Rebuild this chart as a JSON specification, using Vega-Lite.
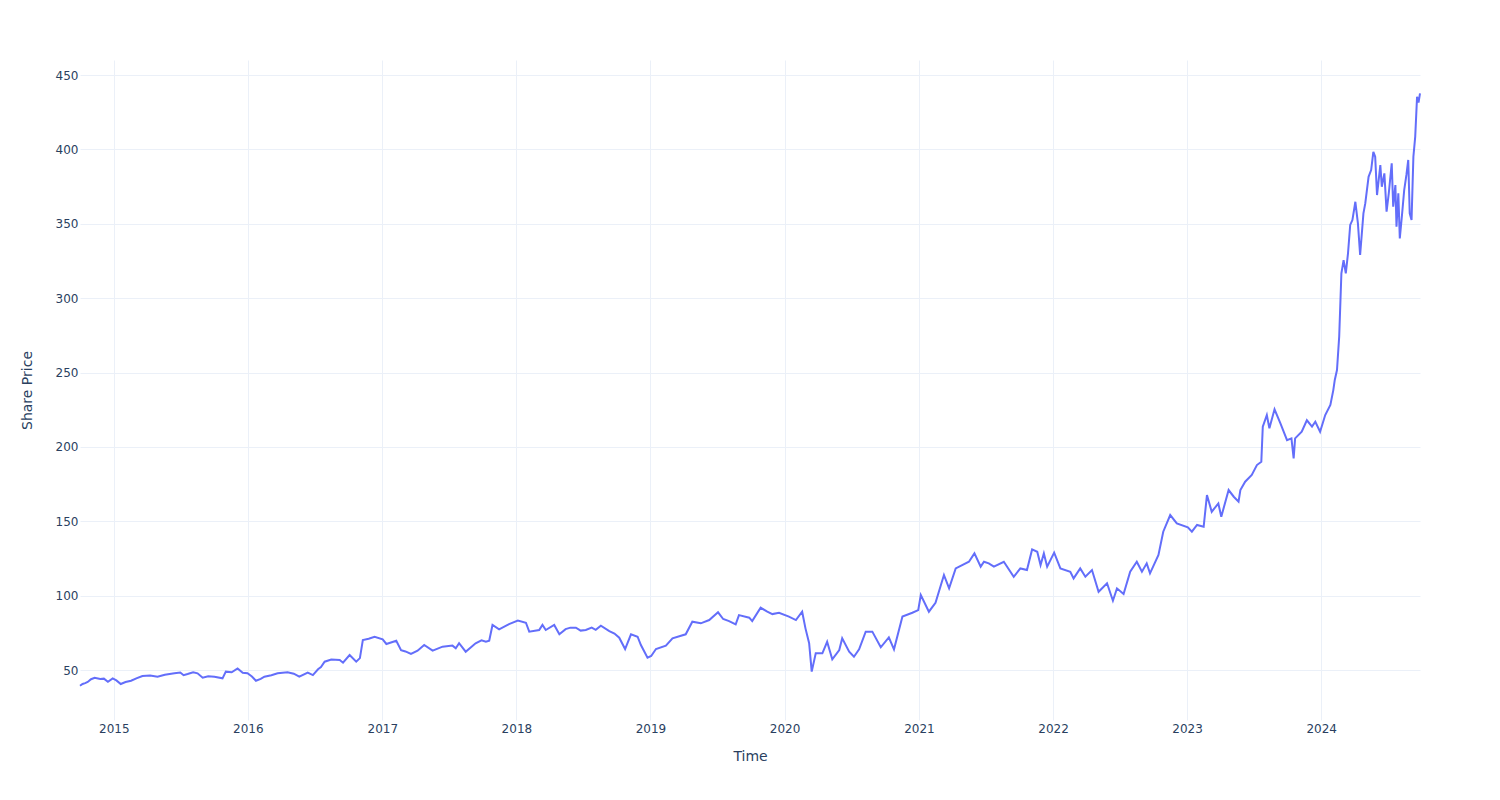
{
  "$schema": "https://vega.github.io/schema/vega-lite/v6.json",
  "width": 1340,
  "height": 660,
  "autosize": {"type": "none"},
  "padding": {"left": 80, "top": 60, "right": 80, "bottom": 80},
  "background": "white",
  "config": {"view": {"stroke": null}},
  "data": {"values": [
    {"date": "2014-10-01", "price": 39.4},
    {"date": "2014-10-08", "price": 40.6},
    {"date": "2014-10-15", "price": 41.2},
    {"date": "2014-10-22", "price": 42.0},
    {"date": "2014-10-31", "price": 43.8},
    {"date": "2014-11-10", "price": 44.8},
    {"date": "2014-11-25", "price": 43.9},
    {"date": "2014-12-05", "price": 44.2},
    {"date": "2014-12-16", "price": 42.1},
    {"date": "2014-12-29", "price": 44.4},
    {"date": "2015-01-08", "price": 43.0},
    {"date": "2015-01-20", "price": 40.6},
    {"date": "2015-02-02", "price": 41.9},
    {"date": "2015-02-17", "price": 42.8},
    {"date": "2015-03-05", "price": 44.5},
    {"date": "2015-03-20", "price": 46.0},
    {"date": "2015-04-10", "price": 46.3},
    {"date": "2015-04-30", "price": 45.5},
    {"date": "2015-05-20", "price": 46.8},
    {"date": "2015-06-15", "price": 47.8},
    {"date": "2015-07-01", "price": 48.3},
    {"date": "2015-07-10", "price": 46.5},
    {"date": "2015-07-21", "price": 47.3},
    {"date": "2015-08-05", "price": 48.5},
    {"date": "2015-08-17", "price": 47.8},
    {"date": "2015-08-31", "price": 44.8},
    {"date": "2015-09-15", "price": 45.8},
    {"date": "2015-10-02", "price": 45.5},
    {"date": "2015-10-24", "price": 44.4},
    {"date": "2015-11-02", "price": 48.9},
    {"date": "2015-11-18", "price": 48.5},
    {"date": "2015-12-04", "price": 51.1},
    {"date": "2015-12-18", "price": 48.2},
    {"date": "2015-12-31", "price": 47.8},
    {"date": "2016-01-12", "price": 45.6},
    {"date": "2016-01-23", "price": 42.8},
    {"date": "2016-02-05", "price": 44.0},
    {"date": "2016-02-15", "price": 45.5},
    {"date": "2016-03-05", "price": 46.5},
    {"date": "2016-03-22", "price": 47.8},
    {"date": "2016-04-18", "price": 48.5},
    {"date": "2016-05-05", "price": 47.5},
    {"date": "2016-05-20", "price": 45.5},
    {"date": "2016-06-12", "price": 48.2},
    {"date": "2016-06-26", "price": 46.6},
    {"date": "2016-07-10", "price": 50.5},
    {"date": "2016-07-18", "price": 52.0},
    {"date": "2016-07-28", "price": 55.6},
    {"date": "2016-08-15", "price": 57.0},
    {"date": "2016-09-07", "price": 56.7},
    {"date": "2016-09-16", "price": 54.9},
    {"date": "2016-10-04", "price": 60.1},
    {"date": "2016-10-22", "price": 55.6},
    {"date": "2016-11-01", "price": 58.0},
    {"date": "2016-11-09", "price": 70.2},
    {"date": "2016-11-25", "price": 71.0},
    {"date": "2016-12-11", "price": 72.4},
    {"date": "2017-01-02", "price": 70.6},
    {"date": "2017-01-12", "price": 67.5},
    {"date": "2017-02-08", "price": 69.7},
    {"date": "2017-02-21", "price": 63.4},
    {"date": "2017-03-05", "price": 62.5},
    {"date": "2017-03-20", "price": 60.8},
    {"date": "2017-04-07", "price": 63.0},
    {"date": "2017-04-25", "price": 66.8},
    {"date": "2017-05-18", "price": 63.0},
    {"date": "2017-06-14", "price": 65.7},
    {"date": "2017-07-11", "price": 66.4},
    {"date": "2017-07-20", "price": 64.6},
    {"date": "2017-07-29", "price": 68.0},
    {"date": "2017-08-16", "price": 62.3},
    {"date": "2017-09-12", "price": 68.0},
    {"date": "2017-09-28", "price": 70.0},
    {"date": "2017-10-10", "price": 69.0},
    {"date": "2017-10-19", "price": 69.7},
    {"date": "2017-10-28", "price": 80.3},
    {"date": "2017-11-15", "price": 77.4},
    {"date": "2017-12-12", "price": 80.9},
    {"date": "2018-01-05", "price": 83.2},
    {"date": "2018-01-27", "price": 81.8},
    {"date": "2018-02-05", "price": 75.8},
    {"date": "2018-03-04", "price": 76.9},
    {"date": "2018-03-13", "price": 80.3},
    {"date": "2018-03-22", "price": 76.9},
    {"date": "2018-04-14", "price": 80.3},
    {"date": "2018-04-28", "price": 74.0},
    {"date": "2018-05-15", "price": 77.5},
    {"date": "2018-05-28", "price": 78.5},
    {"date": "2018-06-12", "price": 78.5},
    {"date": "2018-06-25", "price": 76.5},
    {"date": "2018-07-09", "price": 76.9},
    {"date": "2018-07-25", "price": 78.5},
    {"date": "2018-08-05", "price": 77.0},
    {"date": "2018-08-19", "price": 79.8},
    {"date": "2018-09-11", "price": 76.2},
    {"date": "2018-09-25", "price": 74.5},
    {"date": "2018-10-08", "price": 71.7},
    {"date": "2018-10-24", "price": 64.1},
    {"date": "2018-11-09", "price": 74.0},
    {"date": "2018-11-27", "price": 72.4},
    {"date": "2018-12-06", "price": 66.8},
    {"date": "2018-12-24", "price": 58.3},
    {"date": "2019-01-03", "price": 59.4},
    {"date": "2019-01-16", "price": 64.1},
    {"date": "2019-02-12", "price": 66.4},
    {"date": "2019-03-02", "price": 71.3},
    {"date": "2019-04-07", "price": 74.0},
    {"date": "2019-04-25", "price": 82.5},
    {"date": "2019-05-18", "price": 81.4},
    {"date": "2019-06-10", "price": 83.6},
    {"date": "2019-07-04", "price": 88.8},
    {"date": "2019-07-18", "price": 84.3},
    {"date": "2019-08-03", "price": 82.9},
    {"date": "2019-08-21", "price": 80.7},
    {"date": "2019-08-30", "price": 86.9},
    {"date": "2019-09-27", "price": 85.2},
    {"date": "2019-10-05", "price": 82.9},
    {"date": "2019-10-28", "price": 91.9},
    {"date": "2019-11-15", "price": 89.2},
    {"date": "2019-11-29", "price": 87.6},
    {"date": "2019-12-17", "price": 88.5},
    {"date": "2020-01-13", "price": 85.9},
    {"date": "2020-02-01", "price": 83.6},
    {"date": "2020-02-18", "price": 89.2},
    {"date": "2020-02-27", "price": 78.0},
    {"date": "2020-03-08", "price": 68.0},
    {"date": "2020-03-15", "price": 48.9},
    {"date": "2020-03-26", "price": 61.2},
    {"date": "2020-04-13", "price": 61.2},
    {"date": "2020-04-26", "price": 69.0},
    {"date": "2020-05-10", "price": 57.2},
    {"date": "2020-05-29", "price": 63.4},
    {"date": "2020-06-06", "price": 71.3},
    {"date": "2020-06-25", "price": 62.3},
    {"date": "2020-07-08", "price": 58.9},
    {"date": "2020-07-22", "price": 63.9},
    {"date": "2020-08-09", "price": 75.8},
    {"date": "2020-08-27", "price": 75.8},
    {"date": "2020-09-19", "price": 65.3},
    {"date": "2020-10-11", "price": 72.0},
    {"date": "2020-10-25", "price": 63.9},
    {"date": "2020-11-17", "price": 85.9},
    {"date": "2020-12-14", "price": 88.5},
    {"date": "2020-12-30", "price": 90.3},
    {"date": "2021-01-06", "price": 100.4},
    {"date": "2021-01-28", "price": 89.2},
    {"date": "2021-02-15", "price": 95.2},
    {"date": "2021-03-10", "price": 113.9},
    {"date": "2021-03-24", "price": 104.9},
    {"date": "2021-04-11", "price": 118.3},
    {"date": "2021-05-17", "price": 122.8},
    {"date": "2021-06-01", "price": 128.4},
    {"date": "2021-06-18", "price": 119.5},
    {"date": "2021-06-27", "price": 122.8},
    {"date": "2021-07-10", "price": 121.7},
    {"date": "2021-07-24", "price": 119.5},
    {"date": "2021-08-20", "price": 122.8},
    {"date": "2021-09-16", "price": 112.7},
    {"date": "2021-10-04", "price": 118.3},
    {"date": "2021-10-22", "price": 117.2},
    {"date": "2021-11-05", "price": 131.1},
    {"date": "2021-11-19", "price": 129.5},
    {"date": "2021-11-28", "price": 120.6},
    {"date": "2021-12-07", "price": 128.4},
    {"date": "2021-12-16", "price": 119.5},
    {"date": "2022-01-04", "price": 128.9},
    {"date": "2022-01-21", "price": 118.3},
    {"date": "2022-02-17", "price": 116.1},
    {"date": "2022-02-26", "price": 111.6},
    {"date": "2022-03-16", "price": 118.3},
    {"date": "2022-03-30", "price": 112.7},
    {"date": "2022-04-17", "price": 117.2},
    {"date": "2022-05-05", "price": 102.6},
    {"date": "2022-05-28", "price": 108.3},
    {"date": "2022-06-13", "price": 96.6},
    {"date": "2022-06-24", "price": 104.9},
    {"date": "2022-07-12", "price": 101.1},
    {"date": "2022-07-30", "price": 116.1},
    {"date": "2022-08-17", "price": 122.8},
    {"date": "2022-08-31", "price": 116.1},
    {"date": "2022-09-13", "price": 121.7},
    {"date": "2022-09-22", "price": 115.0},
    {"date": "2022-10-15", "price": 127.3},
    {"date": "2022-10-28", "price": 143.0},
    {"date": "2022-11-16", "price": 154.2},
    {"date": "2022-12-04", "price": 148.6},
    {"date": "2023-01-03", "price": 145.9},
    {"date": "2023-01-14", "price": 143.0},
    {"date": "2023-01-28", "price": 147.5},
    {"date": "2023-02-15", "price": 146.3},
    {"date": "2023-02-24", "price": 167.6},
    {"date": "2023-03-09", "price": 156.4},
    {"date": "2023-03-27", "price": 162.0},
    {"date": "2023-04-04", "price": 153.1},
    {"date": "2023-04-24", "price": 171.0},
    {"date": "2023-05-08", "price": 166.5},
    {"date": "2023-05-21", "price": 163.2},
    {"date": "2023-05-26", "price": 171.0},
    {"date": "2023-06-08", "price": 176.6},
    {"date": "2023-06-26", "price": 181.1},
    {"date": "2023-07-10", "price": 187.8},
    {"date": "2023-07-22", "price": 190.0},
    {"date": "2023-07-26", "price": 213.6},
    {"date": "2023-08-06", "price": 221.4},
    {"date": "2023-08-13", "price": 212.5},
    {"date": "2023-08-27", "price": 225.3},
    {"date": "2023-09-12", "price": 215.8},
    {"date": "2023-09-30", "price": 204.5},
    {"date": "2023-10-12", "price": 205.7},
    {"date": "2023-10-18", "price": 192.3},
    {"date": "2023-10-22", "price": 205.7},
    {"date": "2023-11-09", "price": 210.2},
    {"date": "2023-11-23", "price": 217.9},
    {"date": "2023-12-07", "price": 213.6},
    {"date": "2023-12-16", "price": 216.9},
    {"date": "2023-12-29", "price": 210.2},
    {"date": "2024-01-12", "price": 221.4},
    {"date": "2024-01-26", "price": 228.2},
    {"date": "2024-02-03", "price": 238.2},
    {"date": "2024-02-07", "price": 245.0},
    {"date": "2024-02-13", "price": 251.7},
    {"date": "2024-02-19", "price": 274.1},
    {"date": "2024-02-25", "price": 316.7},
    {"date": "2024-03-02", "price": 325.6},
    {"date": "2024-03-08", "price": 316.7},
    {"date": "2024-03-14", "price": 330.1},
    {"date": "2024-03-20", "price": 349.2},
    {"date": "2024-03-26", "price": 352.5},
    {"date": "2024-04-03", "price": 364.8},
    {"date": "2024-04-10", "price": 350.3},
    {"date": "2024-04-16", "price": 329.0},
    {"date": "2024-04-25", "price": 357.0},
    {"date": "2024-04-30", "price": 363.7},
    {"date": "2024-05-09", "price": 381.6},
    {"date": "2024-05-16", "price": 386.1},
    {"date": "2024-05-22", "price": 398.4},
    {"date": "2024-05-27", "price": 395.1},
    {"date": "2024-06-01", "price": 369.3},
    {"date": "2024-06-10", "price": 389.5},
    {"date": "2024-06-14", "price": 374.9},
    {"date": "2024-06-21", "price": 383.9},
    {"date": "2024-06-27", "price": 358.2},
    {"date": "2024-07-03", "price": 370.5},
    {"date": "2024-07-11", "price": 390.6},
    {"date": "2024-07-15", "price": 361.5},
    {"date": "2024-07-21", "price": 376.0},
    {"date": "2024-07-24", "price": 348.0},
    {"date": "2024-07-29", "price": 370.5},
    {"date": "2024-08-02", "price": 340.2},
    {"date": "2024-08-08", "price": 355.9},
    {"date": "2024-08-14", "price": 372.7},
    {"date": "2024-08-20", "price": 382.8},
    {"date": "2024-08-25", "price": 392.9},
    {"date": "2024-08-29", "price": 357.0},
    {"date": "2024-09-03", "price": 352.5},
    {"date": "2024-09-08", "price": 395.1},
    {"date": "2024-09-13", "price": 408.6},
    {"date": "2024-09-18", "price": 435.4},
    {"date": "2024-09-22", "price": 431.5},
    {"date": "2024-09-26", "price": 437.7}
  ]},
  "mark": {"type": "line", "color": "#636efa", "strokeWidth": 2, "interpolate": "linear"},
  "encoding": {
    "x": {
      "field": "date",
      "type": "temporal",
      "title": "Time",
      "scale": {"nice": false},
      "axis": {
        "tickCount": {"interval": "year", "step": 1},
        "format": "%Y",
        "grid": true,
        "gridColor": "#EBF0F8",
        "gridWidth": 1,
        "domain": false,
        "ticks": false,
        "tickSize": 0,
        "labelPadding": 3,
        "labelFont": "DejaVu Sans",
        "labelFontSize": 12,
        "labelColor": "#2a3f5f",
        "labelFlush": false,
        "labelOverlap": false,
        "titleFont": "DejaVu Sans",
        "titleFontSize": 14,
        "titleFontWeight": "normal",
        "titleColor": "#2a3f5f",
        "titleX": 670,
        "titleY": 36,
        "titleBaseline": "middle",
        "titleAlign": "center"
      }
    },
    "y": {
      "field": "price",
      "type": "quantitative",
      "title": "Share Price",
      "scale": {"domain": [16.4, 460.1], "nice": false, "zero": false},
      "axis": {
        "values": [50, 100, 150, 200, 250, 300, 350, 400, 450],
        "grid": true,
        "gridColor": "#EBF0F8",
        "gridWidth": 1,
        "domain": false,
        "ticks": false,
        "tickSize": 0,
        "labelPadding": 2,
        "labelFont": "DejaVu Sans",
        "labelFontSize": 12,
        "labelColor": "#2a3f5f",
        "labelOverlap": false,
        "titleFont": "DejaVu Sans",
        "titleFontSize": 14,
        "titleFontWeight": "normal",
        "titleColor": "#2a3f5f",
        "titleX": -53,
        "titleY": 330,
        "titleAngle": -90,
        "titleBaseline": "middle",
        "titleAlign": "center"
      }
    }
  }
}
